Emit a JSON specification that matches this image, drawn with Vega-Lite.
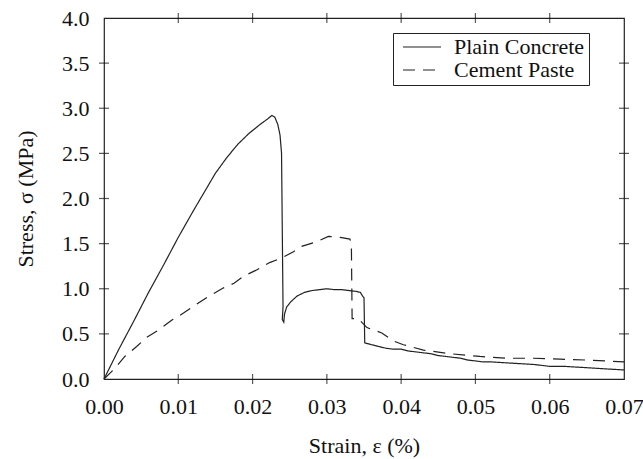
{
  "$schema": "https://vega.github.io/schema/vega-lite/v6.json",
  "width": 520,
  "height": 361,
  "autosize": {"type": "none"},
  "padding": {"left": 104, "top": 18, "right": 19, "bottom": 80},
  "background": "white",
  "config": {
    "view": {"stroke": "#222", "strokeWidth": 1.2},
    "axis": {
      "labelFont": "Liberation Serif",
      "titleFont": "Liberation Serif",
      "labelFontSize": 22,
      "titleFontSize": 22,
      "titleFontWeight": "normal",
      "labelColor": "#111",
      "titleColor": "#111",
      "tickSize": 0,
      "tickOpacity": 0,
      "domain": true,
      "domainOpacity": 0,
      "grid": false,
      "labelFlush": false,
      "labelOverlap": false
    },
    "legend": {
      "labelFont": "Liberation Serif",
      "labelFontSize": 22,
      "labelColor": "#111"
    }
  },
  "datasets": {
    "curves": [
      {"series": "Plain Concrete", "i": 1, "strain": 0, "stress": 0},
      {"series": "Plain Concrete", "i": 2, "strain": 0.002, "stress": 0.33},
      {"series": "Plain Concrete", "i": 3, "strain": 0.004, "stress": 0.64},
      {"series": "Plain Concrete", "i": 4, "strain": 0.006, "stress": 0.96},
      {"series": "Plain Concrete", "i": 5, "strain": 0.008, "stress": 1.26},
      {"series": "Plain Concrete", "i": 6, "strain": 0.010, "stress": 1.57},
      {"series": "Plain Concrete", "i": 7, "strain": 0.012, "stress": 1.86},
      {"series": "Plain Concrete", "i": 8, "strain": 0.0135, "stress": 2.07},
      {"series": "Plain Concrete", "i": 9, "strain": 0.015, "stress": 2.28},
      {"series": "Plain Concrete", "i": 10, "strain": 0.0165, "stress": 2.45},
      {"series": "Plain Concrete", "i": 11, "strain": 0.018, "stress": 2.6},
      {"series": "Plain Concrete", "i": 12, "strain": 0.0195, "stress": 2.72},
      {"series": "Plain Concrete", "i": 13, "strain": 0.021, "stress": 2.82},
      {"series": "Plain Concrete", "i": 14, "strain": 0.022, "stress": 2.88},
      {"series": "Plain Concrete", "i": 15, "strain": 0.0226, "stress": 2.92},
      {"series": "Plain Concrete", "i": 16, "strain": 0.023, "stress": 2.9},
      {"series": "Plain Concrete", "i": 17, "strain": 0.0234, "stress": 2.82},
      {"series": "Plain Concrete", "i": 18, "strain": 0.0237, "stress": 2.7},
      {"series": "Plain Concrete", "i": 19, "strain": 0.0239, "stress": 2.5},
      {"series": "Plain Concrete", "i": 20, "strain": 0.0241, "stress": 0.8},
      {"series": "Plain Concrete", "i": 21, "strain": 0.024, "stress": 0.66},
      {"series": "Plain Concrete", "i": 22, "strain": 0.0242, "stress": 0.63},
      {"series": "Plain Concrete", "i": 23, "strain": 0.0243, "stress": 0.72},
      {"series": "Plain Concrete", "i": 24, "strain": 0.0246, "stress": 0.8},
      {"series": "Plain Concrete", "i": 25, "strain": 0.0252, "stress": 0.86},
      {"series": "Plain Concrete", "i": 26, "strain": 0.026, "stress": 0.92},
      {"series": "Plain Concrete", "i": 27, "strain": 0.027, "stress": 0.96},
      {"series": "Plain Concrete", "i": 28, "strain": 0.028, "stress": 0.98},
      {"series": "Plain Concrete", "i": 29, "strain": 0.029, "stress": 0.99},
      {"series": "Plain Concrete", "i": 30, "strain": 0.03, "stress": 1.0},
      {"series": "Plain Concrete", "i": 31, "strain": 0.031, "stress": 0.99},
      {"series": "Plain Concrete", "i": 32, "strain": 0.032, "stress": 0.99},
      {"series": "Plain Concrete", "i": 33, "strain": 0.033, "stress": 0.98},
      {"series": "Plain Concrete", "i": 34, "strain": 0.034, "stress": 0.97},
      {"series": "Plain Concrete", "i": 35, "strain": 0.0345, "stress": 0.96},
      {"series": "Plain Concrete", "i": 36, "strain": 0.0348, "stress": 0.92},
      {"series": "Plain Concrete", "i": 37, "strain": 0.035, "stress": 0.9},
      {"series": "Plain Concrete", "i": 38, "strain": 0.0351, "stress": 0.4},
      {"series": "Plain Concrete", "i": 39, "strain": 0.036, "stress": 0.38},
      {"series": "Plain Concrete", "i": 40, "strain": 0.037, "stress": 0.36},
      {"series": "Plain Concrete", "i": 41, "strain": 0.038, "stress": 0.34},
      {"series": "Plain Concrete", "i": 42, "strain": 0.039, "stress": 0.33},
      {"series": "Plain Concrete", "i": 43, "strain": 0.04, "stress": 0.33},
      {"series": "Plain Concrete", "i": 44, "strain": 0.041, "stress": 0.31},
      {"series": "Plain Concrete", "i": 45, "strain": 0.042, "stress": 0.3},
      {"series": "Plain Concrete", "i": 46, "strain": 0.043, "stress": 0.29},
      {"series": "Plain Concrete", "i": 47, "strain": 0.044, "stress": 0.28},
      {"series": "Plain Concrete", "i": 48, "strain": 0.045, "stress": 0.26},
      {"series": "Plain Concrete", "i": 49, "strain": 0.046, "stress": 0.25},
      {"series": "Plain Concrete", "i": 50, "strain": 0.047, "stress": 0.24},
      {"series": "Plain Concrete", "i": 51, "strain": 0.048, "stress": 0.23},
      {"series": "Plain Concrete", "i": 52, "strain": 0.049, "stress": 0.21},
      {"series": "Plain Concrete", "i": 53, "strain": 0.05, "stress": 0.2},
      {"series": "Plain Concrete", "i": 54, "strain": 0.051, "stress": 0.19},
      {"series": "Plain Concrete", "i": 55, "strain": 0.052, "stress": 0.19},
      {"series": "Plain Concrete", "i": 56, "strain": 0.054, "stress": 0.18},
      {"series": "Plain Concrete", "i": 57, "strain": 0.056, "stress": 0.17},
      {"series": "Plain Concrete", "i": 58, "strain": 0.058, "stress": 0.16},
      {"series": "Plain Concrete", "i": 59, "strain": 0.06, "stress": 0.14},
      {"series": "Plain Concrete", "i": 60, "strain": 0.062, "stress": 0.14},
      {"series": "Plain Concrete", "i": 61, "strain": 0.064, "stress": 0.13},
      {"series": "Plain Concrete", "i": 62, "strain": 0.066, "stress": 0.12},
      {"series": "Plain Concrete", "i": 63, "strain": 0.068, "stress": 0.11},
      {"series": "Plain Concrete", "i": 64, "strain": 0.07, "stress": 0.1},
      {"series": "Cement Paste", "i": 1, "strain": 0, "stress": 0},
      {"series": "Cement Paste", "i": 2, "strain": 0.0015, "stress": 0.12},
      {"series": "Cement Paste", "i": 3, "strain": 0.0028, "stress": 0.25},
      {"series": "Cement Paste", "i": 4, "strain": 0.0044, "stress": 0.36},
      {"series": "Cement Paste", "i": 5, "strain": 0.0057, "stress": 0.46},
      {"series": "Cement Paste", "i": 6, "strain": 0.0073, "stress": 0.54},
      {"series": "Cement Paste", "i": 7, "strain": 0.0091, "stress": 0.65},
      {"series": "Cement Paste", "i": 8, "strain": 0.0107, "stress": 0.73},
      {"series": "Cement Paste", "i": 9, "strain": 0.0125, "stress": 0.83},
      {"series": "Cement Paste", "i": 10, "strain": 0.014, "stress": 0.91},
      {"series": "Cement Paste", "i": 11, "strain": 0.0161, "stress": 1.01},
      {"series": "Cement Paste", "i": 12, "strain": 0.0175, "stress": 1.06},
      {"series": "Cement Paste", "i": 13, "strain": 0.0188, "stress": 1.14},
      {"series": "Cement Paste", "i": 14, "strain": 0.0206, "stress": 1.21},
      {"series": "Cement Paste", "i": 15, "strain": 0.0223, "stress": 1.29},
      {"series": "Cement Paste", "i": 16, "strain": 0.0239, "stress": 1.34},
      {"series": "Cement Paste", "i": 17, "strain": 0.0255, "stress": 1.41},
      {"series": "Cement Paste", "i": 18, "strain": 0.0266, "stress": 1.47},
      {"series": "Cement Paste", "i": 19, "strain": 0.0286, "stress": 1.52},
      {"series": "Cement Paste", "i": 20, "strain": 0.0302, "stress": 1.58},
      {"series": "Cement Paste", "i": 21, "strain": 0.0318, "stress": 1.57},
      {"series": "Cement Paste", "i": 22, "strain": 0.0331, "stress": 1.55},
      {"series": "Cement Paste", "i": 23, "strain": 0.0333, "stress": 1.5},
      {"series": "Cement Paste", "i": 24, "strain": 0.0334, "stress": 0.67},
      {"series": "Cement Paste", "i": 25, "strain": 0.0342, "stress": 0.67},
      {"series": "Cement Paste", "i": 26, "strain": 0.0354, "stress": 0.57},
      {"series": "Cement Paste", "i": 27, "strain": 0.0374, "stress": 0.51},
      {"series": "Cement Paste", "i": 28, "strain": 0.039, "stress": 0.42},
      {"series": "Cement Paste", "i": 29, "strain": 0.0403, "stress": 0.38},
      {"series": "Cement Paste", "i": 30, "strain": 0.043, "stress": 0.32},
      {"series": "Cement Paste", "i": 31, "strain": 0.0466, "stress": 0.28},
      {"series": "Cement Paste", "i": 32, "strain": 0.0506, "stress": 0.25},
      {"series": "Cement Paste", "i": 33, "strain": 0.0542, "stress": 0.23},
      {"series": "Cement Paste", "i": 34, "strain": 0.0578, "stress": 0.23},
      {"series": "Cement Paste", "i": 35, "strain": 0.0614, "stress": 0.22},
      {"series": "Cement Paste", "i": 36, "strain": 0.065, "stress": 0.21},
      {"series": "Cement Paste", "i": 37, "strain": 0.07, "stress": 0.19}
    ],
    "xticks": [
      {"v": 0.01}, {"v": 0.02}, {"v": 0.03}, {"v": 0.04}, {"v": 0.05}, {"v": 0.06}
    ],
    "yticks": [
      {"v": 0.5}, {"v": 1}, {"v": 1.5}, {"v": 2}, {"v": 2.5}, {"v": 3}, {"v": 3.5}
    ]
  },
  "layer": [
    {
      "data": {"name": "curves"},
      "mark": {"type": "line", "color": "#222", "strokeWidth": 1.2},
      "encoding": {
        "x": {
          "field": "strain", "type": "quantitative",
          "scale": {"domain": [0, 0.07], "nice": false, "zero": false},
          "axis": {
            "orient": "bottom",
            "title": "Strain, ε (%)",
            "values": [0, 0.01, 0.02, 0.03, 0.04, 0.05, 0.06, 0.07],
            "format": ".2f",
            "labelPadding": 17,
            "titlePadding": 18
          }
        },
        "y": {
          "field": "stress", "type": "quantitative",
          "scale": {"domain": [0, 4], "nice": false},
          "axis": {
            "orient": "left",
            "title": "Stress, σ (MPa)",
            "values": [0, 0.5, 1, 1.5, 2, 2.5, 3, 3.5, 4],
            "format": ".1f",
            "labelPadding": 15,
            "titlePadding": 24
          }
        },
        "strokeDash": {
          "field": "series", "type": "nominal",
          "scale": {"domain": ["Plain Concrete", "Cement Paste"], "range": [[1, 0], [12, 8]]},
          "legend": {
            "title": null,
            "orient": "none",
            "legendX": 289,
            "legendY": 15,
            "strokeColor": "#222",
            "fillColor": "white",
            "padding": 4,
            "cornerRadius": 0,
            "symbolType": "stroke",
            "symbolSize": 1444,
            "symbolStrokeWidth": 1.2,
            "symbolStrokeColor": "#222",
            "symbolOffset": 5,
            "clipHeight": 20,
            "rowPadding": 1,
            "labelOffset": 12
          }
        },
        "order": {"field": "i", "type": "quantitative"}
      }
    },
    {
      "data": {"name": "xticks"},
      "mark": {"type": "tick", "orient": "vertical", "color": "#111", "thickness": 1.2, "size": 10},
      "encoding": {
        "x": {"field": "v", "type": "quantitative"},
        "y": {"datum": 0, "type": "quantitative"}
      }
    },
    {
      "data": {"name": "xticks"},
      "mark": {"type": "tick", "orient": "vertical", "color": "#111", "thickness": 1.2, "size": 10},
      "encoding": {
        "x": {"field": "v", "type": "quantitative"},
        "y": {"datum": 4, "type": "quantitative"}
      }
    },
    {
      "data": {"name": "yticks"},
      "mark": {"type": "tick", "orient": "horizontal", "color": "#111", "thickness": 1.2, "size": 10},
      "encoding": {
        "y": {"field": "v", "type": "quantitative"},
        "x": {"datum": 0, "type": "quantitative"}
      }
    },
    {
      "data": {"name": "yticks"},
      "mark": {"type": "tick", "orient": "horizontal", "color": "#111", "thickness": 1.2, "size": 10},
      "encoding": {
        "y": {"field": "v", "type": "quantitative"},
        "x": {"datum": 0.07, "type": "quantitative"}
      }
    }
  ]
}
